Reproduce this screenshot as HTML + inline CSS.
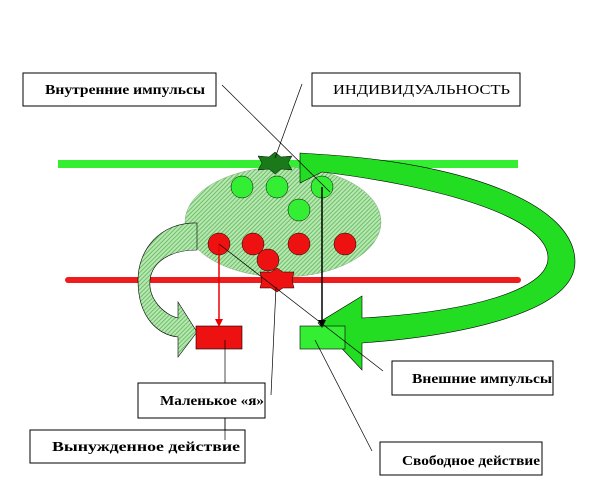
<!DOCTYPE html>
<html><head><meta charset="utf-8"><style>
body{margin:0;background:#fff;}
svg{display:block;}
text{font-family:"Liberation Serif",serif;font-size:14px;fill:#000;}
</style></head><body>
<svg width="610" height="487" viewBox="0 0 610 487" xmlns="http://www.w3.org/2000/svg">
<defs>
<pattern id="h" width="3" height="3" patternUnits="userSpaceOnUse" patternTransform="rotate(45)">
<rect width="3" height="3" fill="#b8e8b0"/><rect width="1" height="3" fill="#6cbf6c"/>
</pattern>
<marker id="ar" markerWidth="8" markerHeight="8" refX="6" refY="4" orient="auto" markerUnits="userSpaceOnUse"><path d="M0,0 L8,4 L0,8 Z" fill="#e00"/></marker>
<marker id="ab" markerWidth="8" markerHeight="8" refX="6" refY="4" orient="auto" markerUnits="userSpaceOnUse"><path d="M0,0 L8,4 L0,8 Z" fill="#000"/></marker>
</defs>
<line x1="58" y1="164" x2="518" y2="164" stroke="#33ee33" stroke-width="8"/>
<line x1="68" y1="280" x2="518" y2="280" stroke="#ee1c1c" stroke-width="6" stroke-linecap="round"/>
<ellipse cx="283" cy="222" rx="98" ry="55" fill="url(#h)" stroke="#88aa88" stroke-width="0.5"/>
<path d="M197,223 C160,222 138,250 138,280 C138,320 160,335 178,337 L178,357 L197,332 L178,302 L178,318 C165,315 148,300 150,280 C152,262 170,250 197,250 Z" fill="url(#h)" stroke="#000" stroke-width="0.6"/>
<path d="M300,153 L330,155 C470,165 575,205 575,262 C575,310 470,335 362,343 L362,370 L318,323 L362,296 L362,318 C470,312 548,290 548,258 C548,215 430,185 322,172 L300,183 Z" fill="#22dd22" stroke="#000" stroke-width="0.6"/>
<g fill="#33ee33" stroke="#000" stroke-width="0.5">
<circle cx="242" cy="187" r="11"/><circle cx="277" cy="187" r="11"/><circle cx="322" cy="187" r="11"/><circle cx="299" cy="210" r="11"/>
</g>
<g fill="#ee1111" stroke="#000" stroke-width="0.5">
<circle cx="219" cy="244" r="11"/><circle cx="253" cy="244" r="11"/><circle cx="299" cy="244" r="11"/><circle cx="345" cy="244" r="11"/><circle cx="268" cy="260" r="11"/>
</g>
<path d="M275,152 L281,157 L292,156 L288,163 L292,170 L281,169 L275,174 L269,169 L258,170 L262,163 L258,156 L269,157 Z" fill="#1a7a1a" stroke="#000" stroke-width="0.5"/>
<path d="M277,268 L283,272 L294,272 L292,280 L294,288 L283,288 L277,292 L271,288 L260,288 L262,280 L260,272 L271,272 Z" fill="#ee1111" stroke="#000" stroke-width="0.5"/>
<rect x="196" y="326" width="46" height="23" fill="#ee1111" stroke="#000" stroke-width="0.6"/>
<rect x="300" y="326" width="45" height="23" fill="#33ee33" stroke="#000" stroke-width="0.6"/>
<line x1="219" y1="244" x2="219" y2="325" stroke="#e00" stroke-width="1.5" marker-end="url(#ar)"/>
<line x1="322" y1="187" x2="322" y2="326" stroke="#000" stroke-width="1.5" marker-end="url(#ab)"/>
<g stroke="#000" stroke-width="0.7" fill="none">
<line x1="222" y1="85" x2="330" y2="192"/>
<line x1="302" y1="84" x2="275" y2="158"/>
<line x1="219" y1="244" x2="383" y2="371"/>
<line x1="276" y1="287" x2="271" y2="395"/>
<line x1="225" y1="340" x2="225" y2="440"/>
<line x1="315" y1="340" x2="372" y2="451"/>
</g>
<g fill="#fff" stroke="#000" stroke-width="1">
<rect x="23" y="73" width="193" height="33"/>
<rect x="312" y="73" width="208" height="33"/>
<rect x="392" y="361" width="161" height="34"/>
<rect x="138" y="383" width="127" height="35"/>
<rect x="30" y="430" width="215" height="33"/>
<rect x="380" y="442" width="162" height="33"/>
</g>
<line x1="225" y1="418" x2="225" y2="440" stroke="#000" stroke-width="0.7"/>
<text x="45" y="94" font-weight="bold" textLength="160" lengthAdjust="spacingAndGlyphs">Внутренние импульсы</text>
<text x="333" y="94" textLength="177" lengthAdjust="spacingAndGlyphs">ИНДИВИДУАЛЬНОСТЬ</text>
<text x="412" y="383" font-weight="bold" textLength="140" lengthAdjust="spacingAndGlyphs">Внешние импульсы</text>
<text x="160" y="405" font-weight="bold" textLength="104" lengthAdjust="spacingAndGlyphs">Маленькое «я»</text>
<text x="52" y="451" font-weight="bold" font-size="13" textLength="188" lengthAdjust="spacingAndGlyphs">Вынужденное  действие</text>
<text x="402" y="465" font-weight="bold" textLength="138" lengthAdjust="spacingAndGlyphs">Свободное действие</text>
</svg>
</body></html>
